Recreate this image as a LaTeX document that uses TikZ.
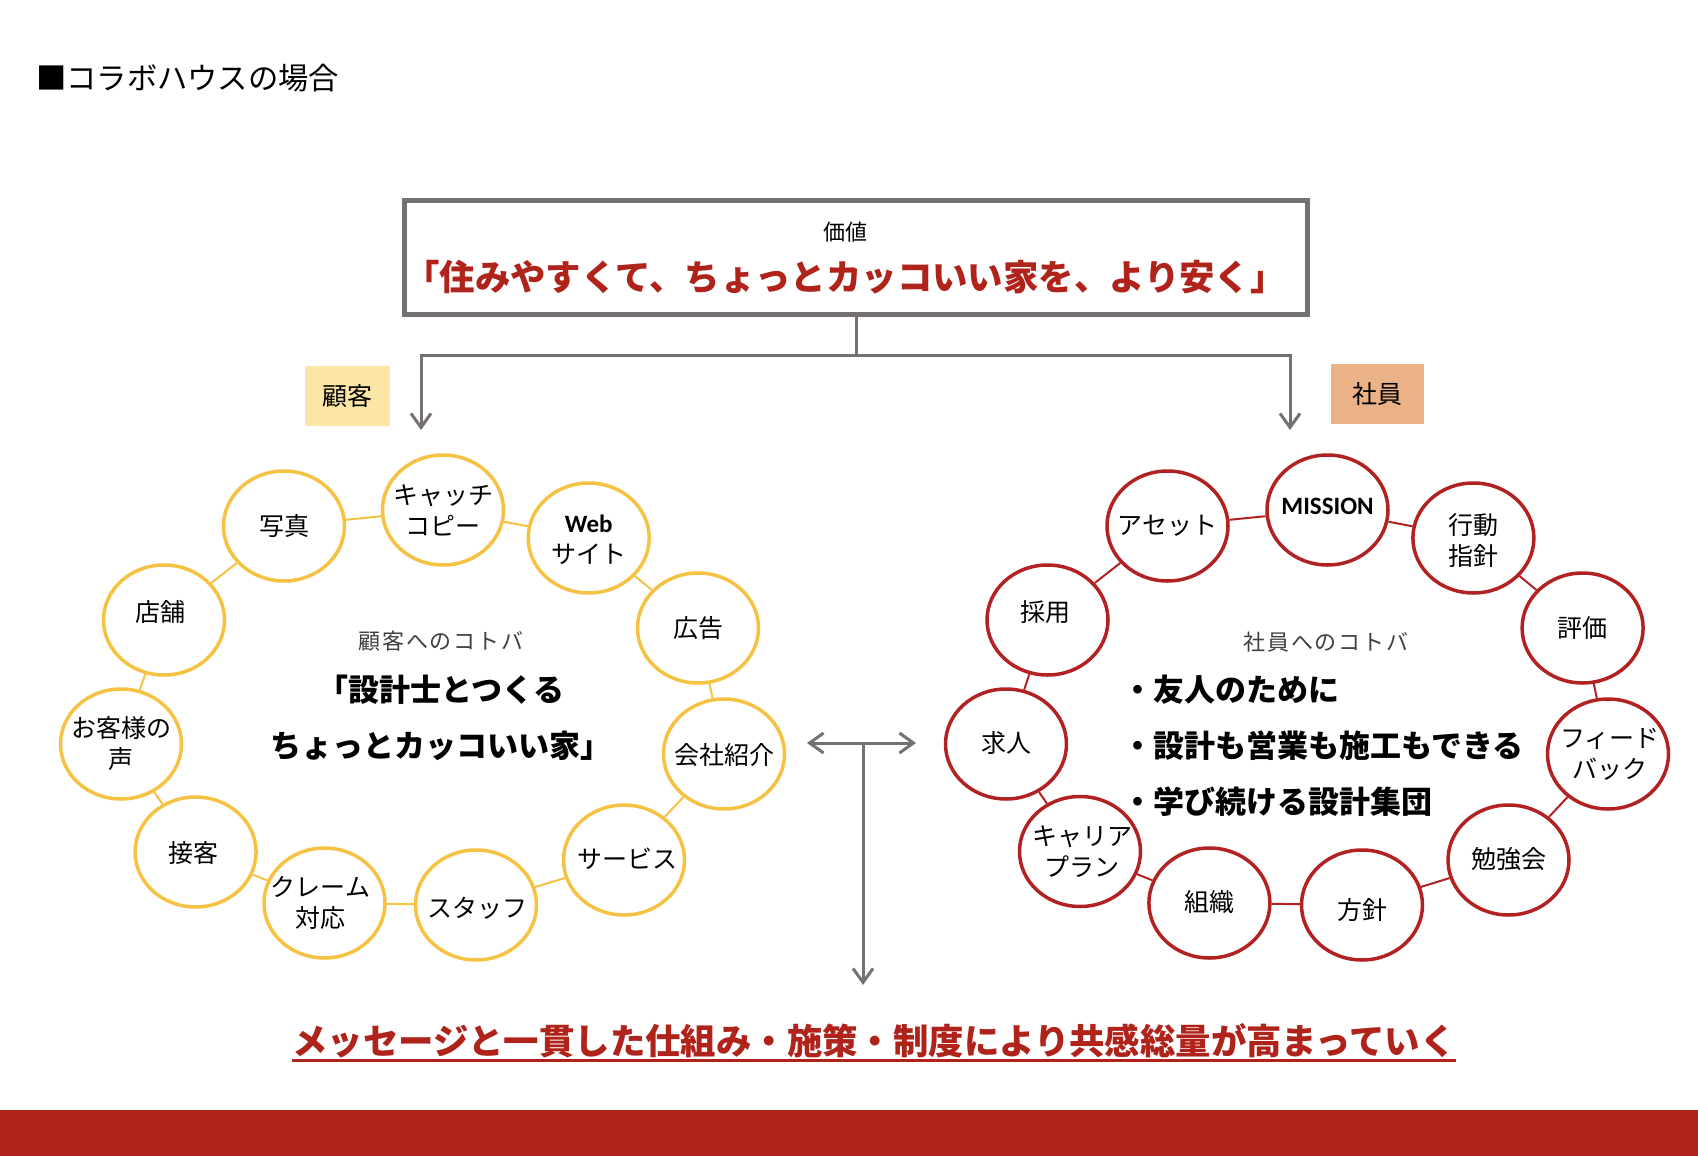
\documentclass[tikz,border=0pt]{standalone}
\usepackage{fontspec}
\setmainfont{Noto Sans CJK JP}
\newfontfamily\lat{Carlito}
\newfontfamily\jpspaced[LetterSpace=9]{Noto Sans CJK JP}
\usetikzlibrary{shapes.geometric,arrows.meta}
\definecolor{ringY}{RGB}{246,194,67}
\definecolor{ringR}{RGB}{178,34,34}
\definecolor{darkred}{RGB}{175,35,27}
\definecolor{lgray}{RGB}{118,113,113}
\definecolor{tagY}{RGB}{252,230,166}
\definecolor{tagS}{RGB}{235,177,135}
\definecolor{txtgray}{RGB}{64,64,64}
\begin{document}
\begin{tikzpicture}[x=1pt,y=-1pt,
  bubY/.style={ellipse, draw=ringY, line width=3.5pt, fill=white, minimum width=121pt, minimum height=110pt, inner sep=0pt},
  bubR/.style={bubY, draw=ringR},
  btxt/.style={font=\fontsize{25}{31}\selectfont, align=center, inner sep=0pt},
  linkY/.style={draw=ringY, line width=2pt},
  linkR/.style={draw=ringR, line width=2pt},
  conn/.style={draw=lgray, line width=3pt},
  tip/.style={-{Straight Barb[length=14pt,width=20pt]}},
  tag/.style={minimum width=85pt, minimum height=60pt, inner sep=0pt, font=\fontsize{25}{28}\selectfont}]
\useasboundingbox[fill=white] (0,0) rectangle (1698,1156);

% title
\node[anchor=west, inner sep=0pt, font=\fontsize{30.3}{33}\selectfont] (title) at (36,78) {■コラボハウスの場合};

% value box
\node[draw=lgray, line width=5pt, minimum width=903pt, minimum height=114pt, inner sep=0pt] (box) at (856,257.5) {};
\node[inner sep=0pt, font=\fontsize{22}{26}\selectfont] (kachi) at (845,232) {価値};
\node[inner sep=0pt, font=\fontsize{35.4}{38}\selectfont\bfseries, text=darkred] (slogan) at (845,277) {「住みやすくて、ちょっとカッコいい家を、より安く」};

% top connectors
\coordinate (jn) at (856,355);
\coordinate (la) at (421,430);
\coordinate (ra) at (1290,430);
\draw[conn] (box.south) -- (jn);
\draw[conn,tip] (jn) -| (la);
\draw[conn,tip] (jn) -| (ra);

% tags
\node[tag, fill=tagY] (tagL) at (347.5,396) {顧客};
\node[tag, fill=tagS, minimum width=93pt] (tagR) at (1377.5,394) {社員};

% left ring
\foreach \n/\x/\y in {L1/284/526, L2/443/510, L3/588.7/538, L4/698/628, L5/724/754, L6/624/860, L7/476/905, L8/324.5/903, L9/195.6/852, L10/121/744, L11/164/620}
  \node[bubY] (\n) at (\x,\y) {};
\foreach \a/\b in {L1/L2, L2/L3, L3/L4, L4/L5, L5/L6, L6/L7, L7/L8, L8/L9, L9/L10, L10/L11, L11/L1}
  \draw[linkY] (\a) -- (\b);
\node[btxt] (L1-t) at (284,526) {写真};
\node[btxt] (L2-t) at (443,510) {キャッチ\\コピー};
\node[btxt] (L3-t) at (588.7,540) {{\lat\bfseries Web}\\サイト};
\node[btxt] (L4-t) at (698,628) {広告};
\node[btxt] (L5-t) at (724,755) {会社紹介};
\node[btxt] (L6-t) at (627,859) {サービス};
\node[btxt] (L7-t) at (477,908) {スタッフ};
\node[btxt] (L8-t) at (320.5,903) {クレーム\\対応};
\node[btxt] (L9-t) at (193,853) {接客};
\node[btxt] (L10-t) at (121,744) {お客様の\\声};
\node[btxt] (L11-t) at (160,612) {店舗};

% right ring
\foreach \n/\x/\y in {R1/1167.5/526, R2/1327.5/510, R3/1473.4/538, R4/1582.6/628, R5/1608/754, R6/1508.5/860, R7/1362/905, R8/1209.4/903, R9/1080/851.5, R10/1006/744, R11/1047.5/620}
  \node[bubR] (\n) at (\x,\y) {};
\foreach \a/\b in {R1/R2, R2/R3, R3/R4, R4/R5, R5/R6, R6/R7, R7/R8, R8/R9, R9/R10, R10/R11, R11/R1}
  \draw[linkR] (\a) -- (\b);
\node[btxt] (R1-t) at (1167.5,526) {アセット};
\node[btxt] (R2-t) at (1327.5,506) {{\lat\bfseries MISSION}};
\node[btxt] (R3-t) at (1473.4,540) {行動\\指針};
\node[btxt] (R4-t) at (1582.6,628) {評価};
\node[btxt] (R5-t) at (1610,754) {フィード\\バック};
\node[btxt] (R6-t) at (1508.5,859) {勉強会};
\node[btxt] (R7-t) at (1362,910) {方針};
\node[btxt] (R8-t) at (1209.4,902) {組織};
\node[btxt] (R9-t) at (1082,851.5) {キャリア\\プラン};
\node[btxt] (R10-t) at (1006,743) {求人};
\node[btxt] (R11-t) at (1045,612) {採用};

% centre texts left
\node[inner sep=0pt, font=\jpspaced\fontsize{22}{26}\selectfont, text=txtgray] (kwL) at (441,641) {顧客へのコトバ};
\node[inner sep=0pt, font=\fontsize{31}{34}\selectfont\bfseries] (kwL1) at (441,690) {「設計士とつくる};
\node[inner sep=0pt, font=\fontsize{31}{34}\selectfont\bfseries] (kwL2) at (441,746) {ちょっとカッコいい家」};

% centre texts right
\node[inner sep=0pt, font=\jpspaced\fontsize{22}{26}\selectfont, text=txtgray] (kwR) at (1326,642) {社員へのコトバ};
\node[anchor=west, inner sep=0pt, font=\fontsize{31}{34}\selectfont\bfseries] (kwR1) at (1122,690) {・友人のために};
\node[anchor=west, inner sep=0pt, font=\fontsize{31}{34}\selectfont\bfseries] (kwR2) at (1122,746) {・設計も営業も施工もできる};
\node[anchor=west, inner sep=0pt, font=\fontsize{31}{34}\selectfont\bfseries] (kwR3) at (1122,802) {・学び続ける設計集団};

% middle arrows
\coordinate (ml) at (807,743);
\coordinate (mr) at (916,743);
\coordinate (mt) at (863,743);
\coordinate (mb) at (863,985);
\draw[conn,{Straight Barb[length=14pt,width=20pt]}-{Straight Barb[length=14pt,width=20pt]}] (ml) -- (mr);
\draw[conn,tip] (mt) -- (mb);

% bottom message
\node[inner sep=0pt, font=\fontsize{35.4}{40}\selectfont\bfseries, text=darkred] (msg) at (874,1041) {メッセージと一貫した仕組み・施策・制度により共感総量が高まっていく};
\draw[darkred, line width=3pt] ([yshift=-6pt]msg.base west) -- ([yshift=-6pt]msg.base east);

% bottom bar
\fill[darkred] (0,1110) rectangle (1698,1156);
\end{tikzpicture}
\end{document}
